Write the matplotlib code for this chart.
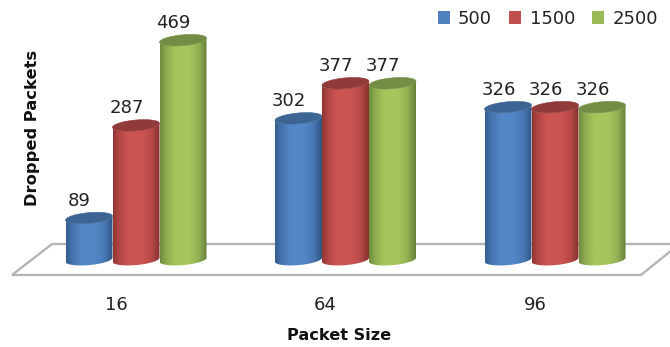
import numpy as np
import matplotlib
matplotlib.use("Agg")
import matplotlib.pyplot as plt
from matplotlib.patches import Patch, PathPatch
from matplotlib.path import Path
from matplotlib.lines import Line2D
from matplotlib.transforms import Affine2D

# Dropped packets per packet size, one series per rate
packet_sizes = ["16", "64", "96"]
series_names = ["500", "1500", "2500"]
values_500 = [89, 302, 326]
values_1500 = [287, 377, 326]
values_2500 = [469, 377, 326]
all_series = [values_500, values_1500, values_2500]

# (edge shade, body shade, lid shade) per series
shades = [("#2f5684", "#5286c6", "#3c6593"),
          ("#86302e", "#cc5452", "#903a39"),
          ("#66803a", "#a4c65c", "#748c44")]
legend_colors = ["#4f81bd", "#c0504d", "#9bbb59"]

W, H = 670, 347
PX_PER_CAT = 209.5
PX_PER_VALUE = 0.468
BASE_PX = 259.7
FLOOR_FRONT_PX = 275
BAR_W = 47 / PX_PER_CAT
RX = 23.5 / PX_PER_CAT      # cylinder half width
RY = 5.4 / PX_PER_VALUE     # ellipse half height
TILT = 2.0 / PX_PER_VALUE   # ellipse slant, left end lower

fig = plt.figure(figsize=(W / 100, H / 100), dpi=100, facecolor="white")
ax = fig.add_axes([0, 1 - FLOOR_FRONT_PX / H, 1, FLOOR_FRONT_PX / H])
ax.set_xlim(-136 / PX_PER_CAT, (W - 136) / PX_PER_CAT)
ax.set_ylim((BASE_PX - FLOOR_FRONT_PX) / PX_PER_VALUE, BASE_PX / PX_PER_VALUE)
ax.patch.set_alpha(0)
for spine in ax.spines.values():
    spine.set_visible(False)

# The floor slab, laid out in figure pixels; its far right corner runs off the edge
to_px = Affine2D().scale(1 / W, -1 / H).translate(0, 1) + fig.transFigure
floor_x = [W + 2, 52, 12, 641, W + 2]
floor_y = [244, 244, 275, 275, 250]
fig.add_artist(Line2D(floor_x, floor_y, transform=to_px, color="#b4b4b4",
                      lw=1.7, solid_joinstyle="miter", zorder=0))


def ramp(edge, body, n=96):
    """Horizontal shading across a cylinder, dark rims and a light middle."""
    e = np.array(matplotlib.colors.to_rgb(edge))
    b = np.array(matplotlib.colors.to_rgb(body))
    u = np.linspace(0, 1, n)
    w = np.interp(u, [0, 0.12, 0.32, 0.62, 0.82, 1], [0.15, 0.6, 1, 1, 0.72, 0])
    return (e + (b - e) * w[:, None])[None, :, :]


def draw_cylinder(cx, value, colors, z):
    edge, body, lid = colors
    t = np.linspace(np.pi, 2 * np.pi, 60)
    xs = cx + RX * np.cos(t)
    # Lower and upper halves of the slanted ellipse, in y-up data units
    low = RY * np.sin(t) + TILT * np.cos(t)
    up = -RY * np.sin(t) + TILT * np.cos(t)
    outline = np.vstack([np.column_stack([xs, low]),
                         np.column_stack([xs[::-1], value + low[::-1]]),
                         [[xs[0], low[0]]]])
    clip = PathPatch(Path(outline), transform=ax.transData, fc="none", ec="none")
    ax.add_patch(clip)
    im = ax.imshow(ramp(edge, body), extent=[cx - RX, cx + RX, -RY - TILT, value + RY + TILT],
                   aspect="auto", interpolation="bilinear", zorder=z)
    im.set_clip_path(clip)
    lid_pts = np.vstack([np.column_stack([xs, value + low]),
                         np.column_stack([xs[::-1], value + up[::-1]])])
    ax.add_patch(PathPatch(Path(lid_pts), fc=lid, ec=lid, lw=0.4, zorder=z + 0.1))


for c in range(len(packet_sizes)):
    for s, vals in enumerate(all_series):
        cx = c + (s - 1) * BAR_W
        draw_cylinder(cx, vals[c], shades[s], 2 + s + c * 3)
        ax.text(cx - 9.5 / PX_PER_CAT, vals[c] + 17 / PX_PER_VALUE, str(vals[c]),
                ha="center", va="center", fontsize=13, color="#222222", zorder=20)

ax.set_xlim(-136 / PX_PER_CAT, (W - 136) / PX_PER_CAT)
ax.set_ylim((BASE_PX - FLOOR_FRONT_PX) / PX_PER_VALUE, BASE_PX / PX_PER_VALUE)

ax.set_yticks([])
ax.set_xticks(np.arange(len(packet_sizes)) - 20 / PX_PER_CAT)
ax.set_xticklabels(packet_sizes, fontsize=13, color="#222222")
ax.tick_params(axis="x", length=0, pad=15)

ax.set_xlabel("Packet Size", fontsize=11.6, fontweight="bold", color="#111111")
ax.xaxis.set_label_coords(339 / W, 1 - 335 / H, transform=fig.transFigure)
ax.xaxis.label.set_verticalalignment("center")
ax.set_ylabel("Dropped Packets", fontsize=11.7, fontweight="bold", color="#111111")
ax.yaxis.set_label_coords(33 / W, 1 - 128 / H, transform=fig.transFigure)
ax.yaxis.label.set_verticalalignment("center")

handles = [Patch(fc=col, ec="none", label=n) for col, n in zip(legend_colors, series_names)]
ax.legend(handles=handles, ncol=3, loc="center right", frameon=False, fontsize=13,
          bbox_to_anchor=(658 / W, 1 - 19 / H), bbox_transform=fig.transFigure,
          handlelength=0.68, handleheight=0.68, handletextpad=0.45, columnspacing=0.95,
          labelcolor="#222222", borderpad=0, borderaxespad=0)

fig.savefig("out.png", dpi=100)
